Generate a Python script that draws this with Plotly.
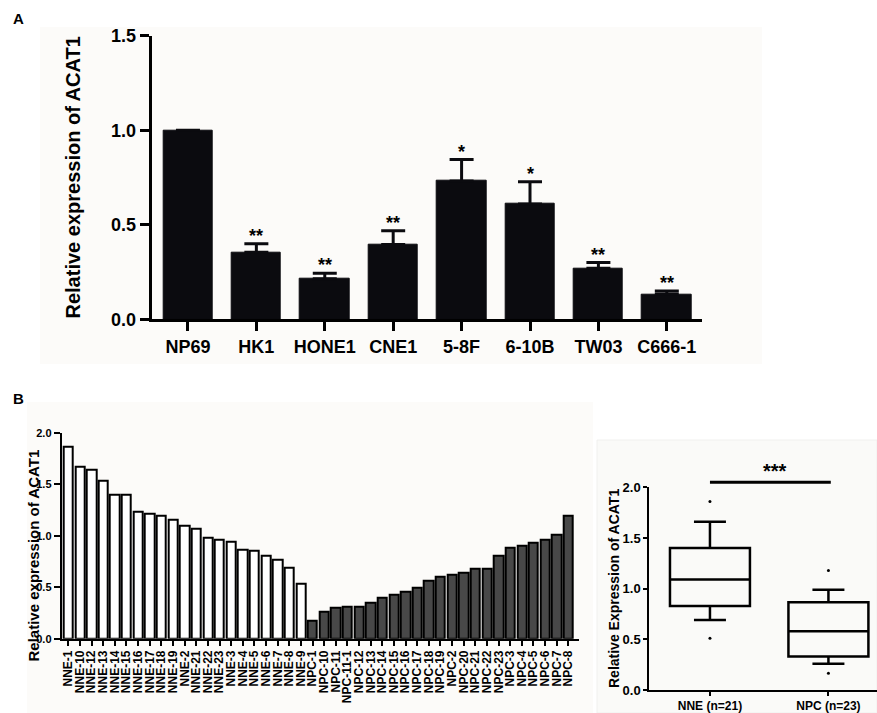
import plotly.graph_objects as go

# ---------------- data ----------------
# Panel A
CELL_LINES = ["NP69", "HK1", "HONE1", "CNE1", "5-8F", "6-10B", "TW03", "C666-1"]
MEANS = [1.00, 0.354, 0.215, 0.395, 0.732, 0.61, 0.27, 0.132]
ERR_TOP = [1.00, 0.40, 0.243, 0.469, 0.845, 0.728, 0.30, 0.15]
STARS = ["", "**", "**", "**", "*", "*", "**", "**"]

# Panel B (bars)
NNE_LABELS = ["NNE-1", "NNE-10", "NNE-12", "NNE-13", "NNE-14", "NNE-15", "NNE-16",
              "NNE-17", "NNE-18", "NNE-19", "NNE-2", "NNE-21", "NNE-22", "NNE-23",
              "NNE-3", "NNE-4", "NNE-5", "NNE-6", "NNE-7", "NNE-8", "NNE-9"]
NNE_VALUES = [1.86, 1.67, 1.64, 1.53, 1.40, 1.40, 1.23, 1.21, 1.19, 1.16, 1.10,
              1.07, 0.98, 0.96, 0.94, 0.86, 0.85, 0.81, 0.77, 0.69, 0.53]
NPC_LABELS = ["NPC-1", "NPC-10", "NPC-11", "NPC-11-1", "NPC-12", "NPC-13", "NPC-14",
              "NPC-15", "NPC-16", "NPC-17", "NPC-18", "NPC-19", "NPC-2", "NPC-20",
              "NPC-21", "NPC-22", "NPC-23", "NPC-3", "NPC-4", "NPC-5", "NPC-6",
              "NPC-7", "NPC-8"]
NPC_VALUES = [0.17, 0.26, 0.30, 0.31, 0.31, 0.35, 0.40, 0.43, 0.46, 0.50, 0.56,
              0.60, 0.62, 0.64, 0.68, 0.68, 0.81, 0.88, 0.90, 0.93, 0.96, 1.01, 1.19]

# Panel B (box plot)
BOX_GROUPS = ["NNE (n=21)", "NPC (n=23)"]
BOX_Q1 = [0.83, 0.33]
BOX_MEDIAN = [1.09, 0.58]
BOX_Q3 = [1.40, 0.865]
BOX_LOW = [0.69, 0.26]
BOX_HIGH = [1.66, 0.99]
OUTLIERS = [[1.86, 0.51], [1.18, 0.165]]
SIG_Y = 2.05
SIG_TEXT = "***"

FONT = "Liberation Sans, Arial, sans-serif"
W, H = 877, 713

# ---------------- layout geometry (pixels) ----------------
def px_x(x):
    return x / W

def px_y(y):
    return 1 - y / H

A_DOM_X = [px_x(151.7), px_x(701.7)]
A_DOM_Y = [px_y(319.3), px_y(35.7)]
B_DOM_X = [px_x(61.7), px_x(579.3)]
B_DOM_Y = [px_y(638.7), px_y(432.7)]
C_DOM_X = [px_x(649.3), 1.0]
C_DOM_Y = [px_y(690.0), px_y(487.3)]
C_YMAX = 2.0

fig = go.Figure()

# ---- Panel A bars ----
fig.add_trace(go.Bar(
    x=CELL_LINES, y=MEANS, width=0.72,
    marker=dict(color="#0b0b0f", line=dict(color="#0b0b0f", width=1)),
    error_y=dict(type="data", symmetric=False,
                 array=[t - m for t, m in zip(ERR_TOP, MEANS)],
                 arrayminus=[0] * len(MEANS),
                 color="#0b0b0f", thickness=3, width=12),
    xaxis="x", yaxis="y", showlegend=False, hoverinfo="skip",
))

# ---- Panel B bars ----
fig.add_trace(go.Bar(
    x=NNE_LABELS, y=NNE_VALUES, width=0.8,
    marker=dict(color="white", line=dict(color="black", width=2)),
    xaxis="x2", yaxis="y2", showlegend=False,
))
fig.add_trace(go.Bar(
    x=NPC_LABELS, y=NPC_VALUES, width=0.8,
    marker=dict(color="#484848", line=dict(color="black", width=2)),
    xaxis="x2", yaxis="y2", showlegend=False,
))

# ---- Panel B box plot ----
for i, g in enumerate(BOX_GROUPS):
    fig.add_trace(go.Box(
        x=[g], q1=[BOX_Q1[i]], median=[BOX_MEDIAN[i]], q3=[BOX_Q3[i]],
        lowerfence=[BOX_LOW[i]], upperfence=[BOX_HIGH[i]],
        width=0.675, whiskerwidth=0.4,
        fillcolor="rgba(0,0,0,0)", line=dict(color="black", width=2.5),
        boxpoints=False, xaxis="x3", yaxis="y3", showlegend=False,
    ))
    fig.add_trace(go.Scatter(
        x=[g] * len(OUTLIERS[i]), y=OUTLIERS[i], mode="markers",
        marker=dict(color="black", size=3), cliponaxis=False,
        xaxis="x3", yaxis="y3", showlegend=False,
    ))

axis_common = dict(showgrid=False, zeroline=False, showline=True, linecolor="black",
                   ticks="outside", tickcolor="black", automargin=False)

ALL_B_LABELS = NNE_LABELS + NPC_LABELS

fig.update_layout(
    width=W, height=H, autosize=False,
    margin=dict(l=0, r=0, t=0, b=0, pad=0),
    paper_bgcolor="white", plot_bgcolor="rgba(0,0,0,0)",
    font=dict(family=FONT, color="black"),
    bargap=0,
    xaxis=dict(domain=A_DOM_X, anchor="y", type="category", range=[-0.53, 7.51],
               linewidth=3, tickwidth=3, ticklen=9,
               tickfont=dict(family=FONT, size=18, weight="bold", color="black"),
               **axis_common),
    yaxis=dict(domain=A_DOM_Y, anchor="x", range=[0, 1.5], tickvals=[0, 0.5, 1.0, 1.5],
               tickformat=".1f", linewidth=3, tickwidth=3, ticklen=9,
               tickfont=dict(family=FONT, size=18, weight="bold", color="black"),
               **axis_common),
    xaxis2=dict(domain=B_DOM_X, anchor="y2", type="category", range=[-0.57, 43.94],
                tickmode="array", tickvals=ALL_B_LABELS, ticktext=ALL_B_LABELS,
                tickangle=-90, linewidth=2, tickwidth=1.5, ticklen=5,
                tickfont=dict(family=FONT, size=12, weight="bold", color="black"),
                **axis_common),
    yaxis2=dict(domain=B_DOM_Y, anchor="x2", range=[0, 2.0],
                tickvals=[0, 0.5, 1.0, 1.5, 2.0], tickformat=".1f",
                linewidth=2, tickwidth=1.5, ticklen=6,
                tickfont=dict(family=FONT, size=11, weight="bold", color="black"),
                **axis_common),
    xaxis3=dict(domain=C_DOM_X, anchor="y3", type="category", range=[-0.512, 1.41],
                linewidth=2, tickwidth=2, ticklen=4,
                tickfont=dict(family=FONT, size=12, weight="bold", color="black"),
                **axis_common),
    yaxis3=dict(domain=C_DOM_Y, anchor="x3", range=[0, C_YMAX],
                tickvals=[0, 0.5, 1.0, 1.5, 2.0], tickformat=".1f",
                linewidth=2, tickwidth=2, ticklen=4,
                tickfont=dict(family=FONT, size=13, weight="bold", color="black"),
                **axis_common),
)

# subtle panel backgrounds
fig.add_shape(type="rect", xref="paper", yref="paper", x0=px_x(40), x1=px_x(762),
              y0=px_y(364), y1=px_y(27), fillcolor="#fcfbf9", line_width=0, layer="below")
fig.add_shape(type="rect", xref="paper", yref="paper", x0=px_x(27), x1=px_x(593),
              y0=0, y1=px_y(402), fillcolor="#fcfbf9", line_width=0, layer="below")
fig.add_shape(type="rect", xref="paper", yref="paper", x0=px_x(597), x1=1,
              y0=0, y1=px_y(440), fillcolor="#fafaf8",
              line=dict(color="#f0f0ee", width=1), layer="below")

annotations = []
# stars in panel A
for c, t, s in zip(CELL_LINES, ERR_TOP, STARS):
    if s:
        annotations.append(dict(x=c, y=t, xref="x", yref="y", text=s, showarrow=False,
                                xanchor="center", yanchor="bottom", yshift=-4,
                                font=dict(family=FONT, size=18, weight="bold", color="black")))

# significance bar in box panel (y converted through axis scale)
sig_paper_y = C_DOM_Y[0] + (SIG_Y / C_YMAX) * (C_DOM_Y[1] - C_DOM_Y[0])
fig.add_shape(type="line", xref="x3", yref="paper", x0=0, x1=1.02,
              y0=sig_paper_y, y1=sig_paper_y, line=dict(color="black", width=3))
annotations.append(dict(x=0.55, y=sig_paper_y, xref="x3", yref="paper", text=SIG_TEXT,
                        showarrow=False, xanchor="center", yanchor="bottom", yshift=-2,
                        font=dict(family=FONT, size=20, weight="bold", color="black")))

# axis titles
TITLE_KW = dict(xref="paper", yref="paper", textangle=-90, showarrow=False,
                xanchor="center", yanchor="middle")
annotations.append(dict(x=px_x(72), y=px_y(177.5), text="Relative expression of ACAT1",
                        font=dict(family=FONT, size=20, weight="bold", color="black"), **TITLE_KW))
annotations.append(dict(x=px_x(33), y=px_y(555.5), text="Relative expression of ACAT1",
                        font=dict(family=FONT, size=15, weight="bold", color="black"), **TITLE_KW))
annotations.append(dict(x=px_x(614), y=px_y(589), text="Relative Expression of ACAT1",
                        font=dict(family=FONT, size=14, weight="bold", color="black"), **TITLE_KW))
# panel letters
LETTER_KW = dict(xref="paper", yref="paper", showarrow=False, xanchor="center", yanchor="middle",
                 font=dict(family=FONT, size=15, weight="bold", color="black"))
annotations.append(dict(x=px_x(18.3), y=px_y(19), text="A", **LETTER_KW))
annotations.append(dict(x=px_x(18.3), y=px_y(399), text="B", **LETTER_KW))

fig.update_layout(annotations=annotations)

fig.write_html("out.html", config={"displayModeBar": False},
               post_script="document.body.style.margin='0px';document.body.style.overflow='hidden';")
